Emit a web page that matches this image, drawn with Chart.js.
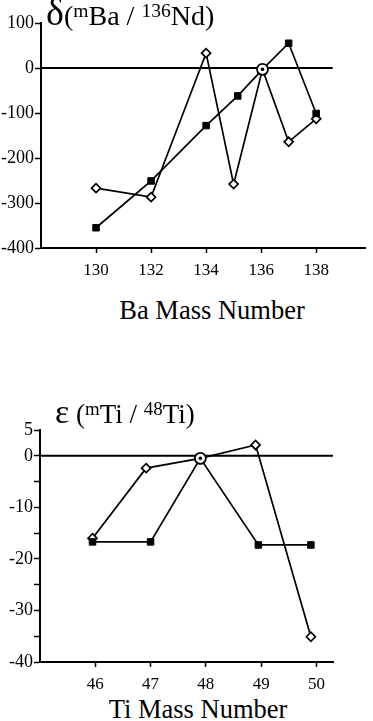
<!DOCTYPE html>
<html>
<head>
<meta charset="utf-8">
<script src="https://cdn.jsdelivr.net/npm/chart.js@4.4.0/dist/chart.umd.min.js"></script>
<style>
  html, body { margin: 0; padding: 0; background: #fff; }
  body { width: 373px; height: 721px; position: relative; overflow: hidden;
         font-family: "Liberation Serif", serif; color: #000; }
  .box { position: absolute; left: 0; }
  .lbl { position: absolute; white-space: nowrap; }
  .lbl sup { font-size: 0.7em; vertical-align: 0.4em; line-height: 0; }
</style>
</head>
<body>
<div class="box" style="top:0"><canvas id="baChart" width="373" height="280"></canvas></div>
<div class="box" style="top:400px"><canvas id="tiChart" width="373" height="290"></canvas></div>

<div class="lbl" style="left:46px;top:-2px;font-size:28px;line-height:28px"><span style="font-size:38px">δ</span>(<sup>m</sup>Ba / <sup>136</sup>Nd)</div>
<div class="lbl" style="left:62px;top:297px;width:300px;text-align:center;font-size:26.5px;line-height:26px">Ba Mass Number</div>

<div class="lbl" style="left:55px;top:398px;font-size:27px;line-height:27px"><span style="font-size:34px">ε</span> (<sup>m</sup>Ti / <sup>48</sup>Ti)</div>
<div class="lbl" style="left:48px;top:696px;width:300px;text-align:center;font-size:26.5px;line-height:26px">Ti Mass Number</div>

<script>
// Ba isotopes, delta(mBa/136Nd)
const baFilledX = [130, 132, 134, 135.15, 136.05, 137, 138];
const baFilled  = [-355, -251, -128, -62, -3, 55, -101];
const baOpenX   = [130, 132, 134, 135, 136.05, 137, 138];
const baOpen    = [-267, -287, 33, -258, -3, -164, -113];
const baRef     = [136.05, -3];
const baTicks   = [130, 132, 134, 136, 138];

// Ti isotopes, epsilon(mTi/48Ti)
const tiFilledX = [45.95, 47, 47.9, 48.95, 49.9];
const tiFilled  = [-16.7, -16.7, -0.5, -17.3, -17.3];
const tiOpenX   = [45.95, 46.92, 47.9, 48.9, 49.9];
const tiOpen    = [-16.0, -2.4, -0.5, 2.1, -35.1];
const tiRef     = [47.9, -0.5];
const tiTicks   = [46, 47, 48, 49, 50];

const FONT = "'Liberation Serif', serif";
const pts = (xs, ys) => xs.map((x, i) => ({ x, y: ys[i] }));

function makeChart(id, cfg) {
  const refIdx = cfg.filledX.indexOf(cfg.ref[0]);
  const hideRef = r => ctx => ctx.dataIndex === refIdx ? 0 : r;
  return new Chart(document.getElementById(id), {
    type: "scatter",
    data: {
      datasets: [
        { // dot inside reference circle
          data: [{ x: cfg.ref[0], y: cfg.ref[1] }],
          pointStyle: "circle", pointRadius: 1.8, backgroundColor: "#000", borderWidth: 0,
        },
        { // reference circle
          data: [{ x: cfg.ref[0], y: cfg.ref[1] }],
          pointStyle: "circle", pointRadius: 5.5, backgroundColor: "#fff",
          borderColor: "#000", borderWidth: 1.8,
        },
        {
          data: pts(cfg.filledX, cfg.filled), showLine: true,
          borderColor: "#000", borderWidth: 1.7, tension: 0,
          pointStyle: "rect", pointRadius: hideRef(4.6), backgroundColor: "#000",
          pointBorderWidth: 1, pointBorderColor: "#000",
        },
        {
          data: pts(cfg.openX, cfg.open), showLine: true,
          borderColor: "#000", borderWidth: 1.7, tension: 0,
          pointStyle: "rectRot", pointRadius: hideRef(4.5), backgroundColor: "#fff",
          pointBorderWidth: 1.7, pointBorderColor: "#000",
        },
        { // zero line
          data: [{ x: cfg.xMin, y: 0 }, { x: cfg.zeroEnd, y: 0 }], showLine: true,
          borderColor: "#000", borderWidth: 2, pointRadius: 0,
        },
      ],
    },
    options: {
      responsive: false,
      animation: false,
      events: [],
      layout: { padding: cfg.padding },
      plugins: { legend: { display: false }, tooltip: { enabled: false } },
      scales: {
        x: {
          type: "linear", min: cfg.xMin, max: cfg.xMax,
          afterBuildTicks: s => { s.ticks = cfg.ticks.map(v => ({ value: v })); },
          afterFit: s => { s.height = cfg.xHeight; },
          grid: { drawOnChartArea: false, drawTicks: true, tickLength: 5, tickWidth: 1.5, color: "#000" },
          border: { display: true, color: "#000", width: 2 },
          ticks: { color: "#000", font: { family: FONT, size: 17 }, padding: 7, maxRotation: 0 },
        },
        y: {
          min: cfg.yMin, max: cfg.yMax,
          ticks: {
            stepSize: cfg.yStep, color: "#000", font: { family: FONT, size: 18 }, padding: 1,
            callback: v => cfg.showY(v) ? String(v) : "",
          },
          afterFit: s => { s.width = cfg.yWidth; },
          grid: { drawOnChartArea: false, drawTicks: true, tickLength: 6, tickWidth: 1.5, color: "#000" },
          border: { display: true, color: "#000", width: 2 },
        },
      },
    },
  });
}

makeChart("baChart", {
  filledX: baFilledX, filled: baFilled, openX: baOpenX, open: baOpen, ref: baRef, ticks: baTicks,
  xMin: 128, xMax: 139.8, zeroEnd: 138.6, yMin: -400, yMax: 100, yStep: 50,
  showY: v => v % 100 === 0,
  padding: { top: 23, right: 1, left: 0, bottom: 0 }, xHeight: 32, yWidth: 41,
});

makeChart("tiChart", {
  filledX: tiFilledX, filled: tiFilled, openX: tiOpenX, open: tiOpen, ref: tiRef, ticks: tiTicks,
  xMin: 45, xMax: 50.3, zeroEnd: 50.3, yMin: -40, yMax: 5, yStep: 5,
  showY: v => v === 5 || v % 10 === 0,
  padding: { top: 30, right: 40, left: 0, bottom: 0 }, xHeight: 28, yWidth: 40,
});
</script>
</body>
</html>
